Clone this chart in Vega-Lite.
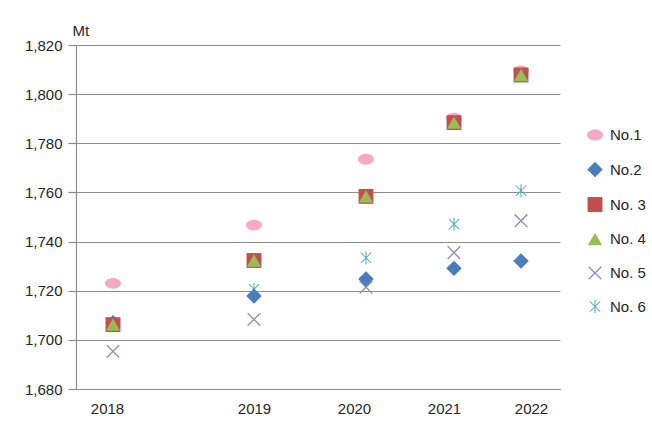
{
  "$schema": "https://vega.github.io/schema/vega-lite/v6.json",
  "autosize": "none",
  "width": 484,
  "height": 344,
  "padding": {"left": 76, "top": 45, "right": 92, "bottom": 38},
  "background": "white",
  "data": {
    "values": [
      {"year": 2018, "series": "No.1", "value": 1723},
      {"year": 2019, "series": "No.1", "value": 1746.7},
      {"year": 2020, "series": "No.1", "value": 1773.5},
      {"year": 2021, "series": "No.1", "value": 1790.2},
      {"year": 2022, "series": "No.1", "value": 1809.4},
      {"year": 2018, "series": "No. 5", "value": 1695.3},
      {"year": 2019, "series": "No. 5", "value": 1708.3},
      {"year": 2020, "series": "No. 5", "value": 1721.4},
      {"year": 2021, "series": "No. 5", "value": 1735.5},
      {"year": 2022, "series": "No. 5", "value": 1748.5},
      {"year": 2018, "series": "No. 6", "value": 1706},
      {"year": 2019, "series": "No. 6", "value": 1720.6},
      {"year": 2020, "series": "No. 6", "value": 1733.4},
      {"year": 2021, "series": "No. 6", "value": 1747.1},
      {"year": 2022, "series": "No. 6", "value": 1760.7},
      {"year": 2018, "series": "No.2", "value": 1707},
      {"year": 2019, "series": "No.2", "value": 1717.8},
      {"year": 2020, "series": "No.2", "value": 1724.8},
      {"year": 2021, "series": "No.2", "value": 1729.1},
      {"year": 2022, "series": "No.2", "value": 1732.1},
      {"year": 2018, "series": "No. 3", "value": 1706.2},
      {"year": 2019, "series": "No. 3", "value": 1732.3},
      {"year": 2020, "series": "No. 3", "value": 1758.4},
      {"year": 2021, "series": "No. 3", "value": 1788.4},
      {"year": 2022, "series": "No. 3", "value": 1807.8},
      {"year": 2018, "series": "No. 4", "value": 1706.2},
      {"year": 2019, "series": "No. 4", "value": 1732.3},
      {"year": 2020, "series": "No. 4", "value": 1758.4},
      {"year": 2021, "series": "No. 4", "value": 1788.4},
      {"year": 2022, "series": "No. 4", "value": 1807.8}
    ]
  },
  "mark": {"type": "point", "filled": true, "opacity": 1, "strokeWidth": 0},
  "encoding": {
    "x": {
      "field": "year",
      "type": "quantitative",
      "scale": {
        "domain": [2017.74, 2018, 2019, 2020, 2021, 2022, 2022.6],
        "range": [0, 37, 178, 290, 378, 445, 484],
        "nice": false,
        "zero": false
      },
      "axis": {
        "values": [2018, 2019, 2020, 2021, 2022],
        "format": "d",
        "title": null,
        "grid": false,
        "ticks": false,
        "labelPadding": 12,
        "labelOffset": {
          "condition": [
            {"test": "datum.value == 2018", "value": -6},
            {"test": "datum.value == 2020", "value": -12},
            {"test": "datum.value == 2021", "value": -10},
            {"test": "datum.value == 2022", "value": 10}
          ],
          "value": 0
        }
      }
    },
    "y": {
      "field": "value",
      "type": "quantitative",
      "scale": {"domain": [1680, 1820], "nice": false, "zero": false},
      "axis": {
        "values": [1680, 1700, 1720, 1740, 1760, 1780, 1800, 1820],
        "format": ",d",
        "title": "Mt",
        "titleAngle": 0,
        "titleAlign": "left",
        "titleBaseline": "middle",
        "titleX": -4,
        "titleY": -15,
        "titleFontWeight": "normal",
        "grid": true,
        "tickSize": 8,
        "labelPadding": 6
      }
    },
    "color": {
      "field": "series",
      "type": "nominal",
      "scale": {
        "domain": ["No.1", "No.2", "No. 3", "No. 4", "No. 5", "No. 6"],
        "range": ["#F6A8C6", "#4A7EBB", "#C0504D", "#9BBB59", "#A08CC2", "#4BACC6"]
      },
      "legend": {
        "title": null,
        "orient": "none",
        "legendX": 510,
        "legendY": 81,
        "padding": 0,
        "rowPadding": 18,
        "labelOffset": 6
      }
    },
    "shape": {
      "field": "series",
      "type": "nominal",
      "scale": {
        "domain": ["No.1", "No.2", "No. 3", "No. 4", "No. 5", "No. 6"],
        "range": [
          "M-1,0A1,0.68,0,1,1,1,0A1,0.68,0,1,1,-1,0Z",
          "diamond",
          "square",
          "triangle-up",
          "M-1,-0.85L-0.85,-1L1,0.85L0.85,1Z M1,-0.85L-0.85,1L-1,0.85L0.85,-1Z",
          "M-0.85,-0.75L-0.75,-0.85L0.85,0.75L0.75,0.85Z M0.85,-0.75L-0.75,0.85L-0.85,0.75L0.75,-0.85Z M-0.08,-1L0.08,-1L0.08,1L-0.08,1Z"
        ]
      }
    },
    "size": {
      "field": "series",
      "type": "nominal",
      "scale": {
        "domain": ["No.1", "No.2", "No. 3", "No. 4", "No. 5", "No. 6"],
        "range": [256, 169, 165, 85, 144, 196]
      }
    }
  },
  "config": {
    "view": {"stroke": null},
    "font": "Liberation Sans",
    "axis": {
      "labelFont": "Liberation Sans",
      "labelFontSize": 15,
      "labelColor": "#262626",
      "titleFont": "Liberation Sans",
      "titleFontSize": 15,
      "titleColor": "#262626",
      "domainColor": "#8C8C8C",
      "domainWidth": 1.2,
      "tickColor": "#8C8C8C",
      "tickWidth": 1.2,
      "gridColor": "#8C8C8C",
      "gridWidth": 1.2
    },
    "legend": {
      "labelFont": "Liberation Sans",
      "labelFontSize": 15,
      "labelColor": "#262626"
    }
  }
}
